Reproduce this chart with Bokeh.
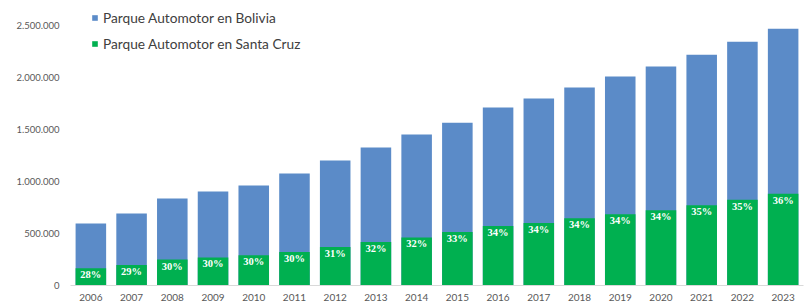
from bokeh.plotting import figure
from bokeh.models import (ColumnDataSource, FactorRange, Range1d, FixedTicker,
                          CustomJSTickFormatter, Legend, LegendItem, LabelSet)
from bokeh.embed import file_html
from bokeh.resources import INLINE

years = ["2006", "2007", "2008", "2009", "2010", "2011", "2012", "2013", "2014",
         "2015", "2016", "2017", "2018", "2019", "2020", "2021", "2022", "2023"]
bolivia = [596000, 692000, 837000, 904000, 962000, 1077000, 1202000, 1327000, 1452000,
           1567000, 1712000, 1798000, 1904000, 2010000, 2106000, 2221000, 2346000, 2471000]
santa_cruz = [165000, 198000, 249000, 270000, 290000, 323000, 370000, 418000, 463000,
              515000, 572000, 601000, 646000, 685000, 724000, 772000, 824000, 882000]
pct_labels = ["28%", "29%", "30%", "30%", "30%", "30%", "31%", "32%", "32%",
              "33%", "34%", "34%", "34%", "34%", "34%", "35%", "35%", "36%"]
y_ticks = [0, 500000, 1000000, 1500000, 2000000, 2500000]

src = ColumnDataSource(dict(year=years, bol=bolivia, sc=santa_cruz, pct=pct_labels))

p = figure(width=806, height=306, x_range=FactorRange(*years, range_padding=0),
           y_range=Range1d(0, 2665000), output_backend="svg", toolbar_location=None,
           min_border_left=70, min_border_right=3, min_border_top=8, min_border_bottom=21)
p.outline_line_color = None
p.background_fill_color = "white"
p.border_fill_color = "white"
p.xgrid.grid_line_color = None
p.ygrid.grid_line_color = None

r_bol = p.vbar(x="year", top="bol", width=0.75, source=src, fill_color="#5B8BC8", line_color=None)
r_sc = p.vbar(x="year", top="sc", width=0.75, source=src, fill_color="#00B050", line_color=None)

labels = LabelSet(x="year", y="sc", text="pct", source=src, text_align="center",
                  text_baseline="top", y_offset=-1, text_color="white",
                  text_font="Lato", text_font_size="10.5px", text_font_style="bold")
p.add_layout(labels)

p.yaxis.ticker = FixedTicker(ticks=y_ticks)
p.yaxis.formatter = CustomJSTickFormatter(
    code="return tick.toFixed(0).replace(/\\B(?=(\\d{3})+(?!\\d))/g, '.');")
p.yaxis.axis_line_color = None
p.yaxis.major_tick_line_color = None
p.yaxis.minor_tick_line_color = None
p.yaxis.major_label_standoff = 5
p.yaxis.major_label_text_font = "Lato"
p.yaxis.major_label_text_font_size = "9.5px"
p.yaxis.major_label_text_color = "#595959"

p.xaxis.axis_line_color = "#D9D9D9"
p.xaxis.major_tick_line_color = None
p.xaxis.minor_tick_line_color = None
p.xaxis.major_label_standoff = 2
p.xaxis.major_label_text_font = "Lato"
p.xaxis.major_label_text_font_size = "10px"
p.xaxis.major_label_text_color = "#595959"

legend = Legend(items=[LegendItem(label="Parque Automotor en Bolivia", renderers=[r_bol]),
                       LegendItem(label="Parque Automotor en Santa Cruz", renderers=[r_sc])],
                location=(21, 232), padding=0, margin=0, spacing=6, label_height=20,
                glyph_width=7, glyph_height=7, label_standoff=5,
                label_text_font="Lato", label_text_font_size="13.7px",
                label_text_color="#404040", border_line_color=None,
                background_fill_alpha=0)
p.add_layout(legend)

open("out.html", "w").write(file_html(p, INLINE))
